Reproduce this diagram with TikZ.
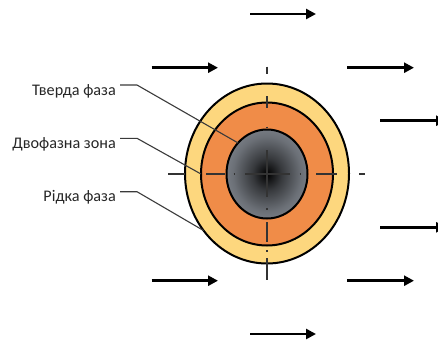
\documentclass[tikz,border=0pt]{standalone}
\usepackage{fontspec}
\setmainfont{Carlito}
\usetikzlibrary{arrows.meta,shapes.geometric}
\definecolor{ringyellow}{HTML}{FDD77E}
\definecolor{ringorange}{HTML}{F08C48}
\definecolor{coregray}{HTML}{8F959E}
\definecolor{leadergray}{HTML}{3A3A3A}
\pgfdeclareradialshading{coreshade}{\pgfpoint{0bp}{0bp}}{color(0bp)=(black); color(9bp)=(black!62!coregray); color(21bp)=(black!25!coregray); color(35bp)=(coregray); color(100bp)=(coregray)}
\begin{document}
\begin{tikzpicture}[x=1pt,y=-1pt,
  ring/.style={ellipse, draw=black, line width=2pt, inner sep=0pt, outer sep=0pt},
  flow/.style={line width=2.5pt, -{Triangle[length=10pt,width=10pt]}},
  leader/.style={draw=leadergray, line width=1.1pt},
  lbl/.style={anchor=base east, font=\fontsize{16.2}{19}\selectfont, text=black!85, inner sep=0pt},
  cline/.style={draw=black!80, line width=1.4pt}]
\useasboundingbox (0,0) rectangle (438,343);
% rings
\node[ring, fill=ringyellow, minimum width=164pt, minimum height=180pt] (outer) at (267,173.5) {};
\node[ring, fill=ringorange, minimum width=132pt, minimum height=143pt] (middle) at (267,174) {};
\node[ring, shade, shading=coreshade, minimum width=81pt, minimum height=89pt] (inner) at (267,174) {};
% centre lines
\foreach \ya/\yb in {66.5/74, 96/108, 126.5/128, 150/197, 208/209.5, 222/242, 250/251.5, 258/280}
  \draw[cline] (267,\ya) -- (267,\yb);
\foreach \xa/\xb in {168/185, 206/225, 233.5/235, 245/290, 299.5/301, 316/337, 359/365}
  \draw[cline] (\xa,174) -- (\xb,174);
% labels
\node[lbl] (t1) at (116,95) {Тверда фаза};
\node[lbl] (t2) at (116,148.3) {Двофазна зона};
\node[lbl] (t3) at (116,201.7) {Рідка фаза};
\coordinate (b1) at (137,85);
\coordinate (b2) at (137,138.3);
\coordinate (b3) at (137,191.7);
\draw[leader] ([xshift=4pt]t1.east |- b1) -- (b1) -- (inner.133);
\draw[leader] ([xshift=4pt]t2.east |- b2) -- (b2) -- (middle.west);
\draw[leader] ([xshift=4pt]t3.east |- b3) -- (b3) -- (outer.222);
% flow arrows
\foreach \n/\xa/\xb/\y in {a/250/316/14, b/151.7/218/67.7, c/347.3/414/67.7, d/380/446/120.7,
  e/380/446/227.3, f/151.7/218/280.7, g/347.3/414/280.7, h/250/316/334}{
  \coordinate (\n s) at (\xa,\y);
  \coordinate (\n e) at (\xb,\y);
  \draw[flow] (\n s) -- (\n e);
}
\end{tikzpicture}
\end{document}
